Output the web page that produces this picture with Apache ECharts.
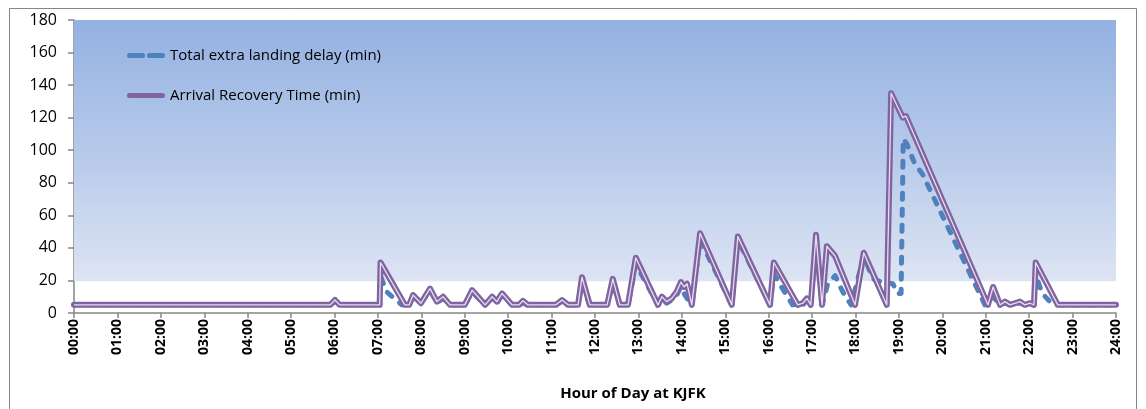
<!DOCTYPE html>
<html>
<head>
<meta charset="utf-8">
<script src="https://cdn.jsdelivr.net/npm/echarts@6/dist/echarts.min.js"></script>
<style>
  html, body { margin: 0; padding: 0; background: #ffffff; }
  #chart { width: 1146px; height: 409px; }
</style>
</head>
<body>
<div id="chart"></div>
<script>
// Hour-of-day tick labels along the x axis (0..24)
const hourTicks = Array.from({ length: 25 }, (_, h) => (h < 10 ? '0' + h : '' + h) + ':00');

// Y axis ticks
const yTicks = [0, 20, 40, 60, 80, 100, 120, 140, 160, 180];

// Series names
const delayName = 'Total extra landing delay (min)';
const recoveryName = 'Arrival Recovery Time (min)';

// Total extra landing delay: [hour of day, minutes]
const delayPoints = [
  [0, 5], [5.9, 5], [6.01, 7], [6.12, 5],
  [7.04, 5], [7.07, 22], [7.2, 13], [7.55, 5],
  [7.72, 5], [7.81, 10], [7.99, 6], [8.2, 14], [8.36, 6], [8.5, 9], [8.66, 5],
  [9.0, 5], [9.17, 13], [9.47, 5], [9.63, 9], [9.74, 6], [9.86, 11], [10.09, 5],
  [10.25, 5], [10.34, 6], [10.45, 5],
  [11.1, 5], [11.24, 7], [11.38, 5],
  [11.61, 5], [11.7, 18], [11.88, 5],
  [12.28, 5], [12.41, 18], [12.57, 5],
  [12.76, 5], [12.94, 30], [13.45, 5],
  [13.54, 9], [13.65, 6], [13.77, 8], [13.88, 11], [13.98, 16], [14.05, 12], [14.12, 9], [14.23, 5],
  [14.42, 45], [15.15, 5], [15.29, 45], [16.03, 5],
  [16.12, 24], [16.25, 18], [16.55, 5],
  [16.79, 5], [16.88, 8], [16.97, 5],
  [17.09, 46], [17.23, 5], [17.36, 18], [17.53, 23], [17.65, 16], [17.75, 11], [17.9, 5],
  [18.19, 35], [18.4, 21], [18.6, 19], [18.86, 18], [18.97, 12], [19.05, 12],
  [19.1, 107], [19.18, 104], [19.36, 92], [19.55, 85], [20.98, 5],
  [21.17, 10], [21.33, 5], [21.44, 6], [21.56, 5], [21.79, 6], [21.9, 5],
  [22.11, 5], [22.17, 22], [22.3, 12], [22.55, 5], [24, 5]
];

// Arrival recovery time: [hour of day, minutes]
const recoveryPoints = [
  [0, 5], [5.9, 5], [6.01, 8], [6.12, 5],
  [7.04, 5], [7.06, 31], [7.62, 5],
  [7.72, 5], [7.81, 11], [7.99, 6], [8.2, 15], [8.36, 7], [8.5, 10], [8.66, 5],
  [9.0, 5], [9.17, 14], [9.47, 5], [9.63, 10], [9.74, 7], [9.86, 12], [10.09, 5],
  [10.25, 5], [10.34, 7.5], [10.45, 5],
  [11.1, 5], [11.24, 8], [11.38, 5],
  [11.61, 5], [11.7, 22], [11.88, 5],
  [12.28, 5], [12.41, 21], [12.57, 5],
  [12.76, 5], [12.94, 34], [13.45, 5],
  [13.54, 10], [13.65, 7], [13.77, 9], [13.88, 13], [13.98, 19], [14.05, 16], [14.12, 18], [14.23, 5],
  [14.42, 49], [15.15, 5], [15.29, 47], [16.03, 5],
  [16.12, 31], [16.67, 5], [16.79, 6], [16.88, 9], [16.97, 5],
  [17.09, 48], [17.23, 5], [17.34, 41], [17.53, 35], [17.99, 5],
  [18.19, 37], [18.72, 5], [18.82, 135], [19.09, 120], [19.16, 121],
  [21.05, 5], [21.17, 16], [21.33, 5], [21.44, 7], [21.56, 5], [21.79, 7], [21.9, 5],
  [22.02, 6], [22.11, 5], [22.15, 31], [22.66, 5], [24, 5]
];

const FONT = '"Open Sans", "DejaVu Sans", sans-serif';
const AXIS_GREY = '#868686';
const BLUE = '#4F81BD';
const PURPLE = '#8064A2';

const chart = echarts.init(document.getElementById('chart'), null, { renderer: 'canvas' });

chart.setOption({
  animation: false,
  backgroundColor: '#ffffff',
  textStyle: { fontFamily: FONT },
  grid: { left: 74, right: 30, top: 20, bottom: 96, containLabel: false },
  title: {
    text: 'Hour of Day at KJFK',
    left: 628,
    top: 381,
    textAlign: 'center',
    textStyle: { fontFamily: FONT, fontSize: 15, fontWeight: 'bold', color: '#000000' }
  },
  legend: {
    orient: 'vertical',
    left: 122,
    top: 43,
    itemGap: 25,
    itemWidth: 38,
    itemHeight: 6,
    selectedMode: false,
    textStyle: { fontFamily: FONT, fontSize: 15, color: '#000000' },
    data: [
      {
        name: delayName,
        icon: 'path://M2.5,0H15.5A2.5,2.5 0 0 1 15.5,5H2.5A2.5,2.5 0 0 1 2.5,0Z M22.5,0H35.5A2.5,2.5 0 0 1 35.5,5H22.5A2.5,2.5 0 0 1 22.5,0Z',
        itemStyle: { color: BLUE }
      },
      {
        name: recoveryName,
        icon: 'path://M2.5,0H35.5A2.5,2.5 0 0 1 35.5,5H2.5A2.5,2.5 0 0 1 2.5,0Z M2.5,1.9H35.5V3.1H2.5Z',
        itemStyle: { color: PURPLE }
      }
    ]
  },
  xAxis: {
    type: 'value',
    min: 0,
    max: 24,
    interval: 1,
    axisLine: { show: true, lineStyle: { color: AXIS_GREY, width: 1.5 } },
    axisTick: { show: true, length: 5, lineStyle: { color: AXIS_GREY, width: 1.5 } },
    splitLine: { show: false },
    axisLabel: {
      rotate: 90,
      margin: 6,
      fontFamily: FONT,
      fontSize: 14,
      fontWeight: 'bold',
      color: '#000000',
      formatter: v => hourTicks[Math.round(v)]
    }
  },
  yAxis: {
    type: 'value',
    min: yTicks[0],
    max: yTicks[yTicks.length - 1],
    interval: yTicks[1] - yTicks[0],
    axisLine: { show: true, lineStyle: { color: AXIS_GREY, width: 1.5 } },
    axisTick: { show: true, length: 6, lineStyle: { color: AXIS_GREY, width: 1.5 } },
    splitLine: { show: false },
    axisLabel: {
      margin: 17,
      fontFamily: FONT,
      fontSize: 16,
      color: '#000000'
    }
  },
  graphic: [
    {
      type: 'rect',
      shape: { x: 9.5, y: 8.5, width: 1127, height: 420 },
      style: { fill: 'none', stroke: AXIS_GREY, lineWidth: 1 },
      silent: true,
      z: -1
    }
  ],
  series: [
    {
      name: delayName,
      type: 'line',
      data: delayPoints,
      showSymbol: false,
      symbol: 'none',
      z: 3,
      lineStyle: { color: BLUE, width: 5, type: [6, 10], cap: 'round', join: 'round' },
      itemStyle: { color: BLUE },
      markArea: {
        silent: true,
        itemStyle: {
          color: {
            type: 'linear', x: 0, y: 0, x2: 0, y2: 1,
            colorStops: [
              { offset: 0, color: '#93B1E1' },
              { offset: 0.5, color: '#B6C9EA' },
              { offset: 1, color: '#DDE4F3' }
            ]
          }
        },
        data: [[{ yAxis: 19.5 }, { yAxis: 180 }]]
      }
    },
    {
      name: recoveryName,
      type: 'line',
      data: recoveryPoints,
      showSymbol: false,
      symbol: 'none',
      z: 4,
      lineStyle: { color: PURPLE, width: 6, join: 'round', cap: 'round' },
      itemStyle: { color: PURPLE }
    },
    {
      // light core that gives the recovery line its double-stroke look
      name: recoveryName + ' core',
      type: 'line',
      data: recoveryPoints,
      showSymbol: false,
      symbol: 'none',
      silent: true,
      z: 5,
      lineStyle: { color: '#E6DEEF', width: 1.3, join: 'round' },
      itemStyle: { color: '#E6DEEF' }
    }
  ]
});
</script>
</body>
</html>
